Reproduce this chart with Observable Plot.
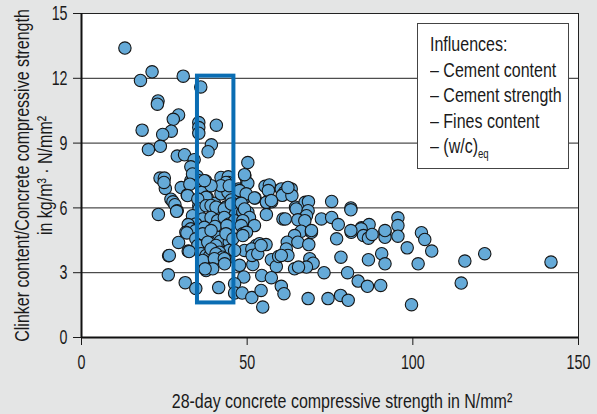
<!DOCTYPE html>
<html>
<head>
<meta charset="utf-8">
<script src="https://cdn.jsdelivr.net/npm/d3@7"></script>
<script src="https://cdn.jsdelivr.net/npm/@observablehq/plot@0.6"></script>
<style>
  html, body { margin: 0; padding: 0; background: #e4e5e5; }
  #wrap { position: relative; width: 597px; height: 414px; overflow: hidden; }
  #legend {
    position: absolute; left: 417px; top: 23px; width: 152px; height: 146px;
    background: #fff; border: 1px solid #444; box-sizing: border-box; overflow: hidden;
  }
  #legend .inner {
    position: absolute; left: 12px; top: 8px; white-space: nowrap;
    font-family: "Liberation Sans", Arial, sans-serif;
    font-size: 20px; line-height: 25.6px; color: #1a1a1a;
    transform: scaleX(0.8); transform-origin: left top;
  }
  #legend sub { font-size: 12px; vertical-align: -5px; line-height: 0; }
</style>
</head>
<body>
<div id="wrap"></div>
<script>
// 28-day concrete compressive strength (N/mm²)
const strength = [
  13.1,17.8,21.3,30.7,23.1,22.9,36.0,18.3,29.3,27.7,27.1,24.5,20.2,23.8,35.4,35.4,35.4,40.7,39.2,38.2,28.9,31.1,34.0,33.0,50.2,
  23.7,25.0,25.3,30.1,27.0,27.6,28.2,31.9,33.0,34.9,35.5,37.5,36.3,37.9,40.1,42.1,44.3,44.3,42.1,44.2,45.2,47.4,47.8,49.3,49.9,52.4,49.1,55.4,56.7,56.4,56.0,57.4,60.3,61.3,63.3,60.6,63.5,64.6,35.4,43.5,67.5,68.5,75.5,81.3,33.5,32.7,24.9,50.2,43.6,42.1,39.1,44.6,47.7,49.7,37.6,32.0,62.3,52.2,55.8,57.3,35.1,37.1,49.2,
  23.2,28.9,28.7,35.5,37.6,40.1,42.1,43.6,45.7,48.7,50.2,39.1,40.6,43.1,45.2,48.2,49.2,55.8,60.8,32.5,36.6,39.1,41.1,43.1,44.6,48.2,50.7,46.2,48.7,33.5,34.5,32.2,33.0,64.8,81.3,61.5,68.4,67.9,65.3,67.4,72.4,75.5,77.5,84.5,86.8,95.5,95.5,34.5,37.1,40.3,43.9,48.2,52.2,66.3,
  43.9,41.1,38.6,41.9,44.6,48.7,49.8,52.7,53.7,55.7,31.5,31.8,29.3,34.5,35.1,36.6,39.1,43.6,45.7,48.7,38.1,40.6,44.6,49.2,51.4,32.2,32.5,64.3,69.4,62.1,61.8,65.3,68.6,77.0,81.4,84.4,85.1,86.6,87.7,91.6,91.6,95.5,98.3,102.6,103.6,105.7,81.3,91.6,69.4,
  26.3,26.5,36.1,37.6,38.6,39.1,41.6,40.6,42.6,43.6,36.6,40.1,43.1,37.6,39.6,43.2,47.7,37.3,51.7,51.5,53.2,54.2,57.3,58.8,59.5,62.3,60.3,68.9,69.9,67.9,64.3,65.5,78.3,86.6,90.6,91.6,101.6,115.7,121.7,141.7,73.2,80.3,49.0,54.4,57.3,26.2,46.2,
  31.3,34.5,41.4,46.2,46.2,48.5,51.4,54.2,54.7,60.3,61.1,83.5,86.3,90.3,68.4,74.4,78.2,80.5,114.6,99.6
];
// Clinker content / concrete compressive strength (kg/m³ · N/mm²)
const ratio = [
  13.4,11.9,12.3,12.1,10.95,10.8,11.6,9.6,10.3,10.1,9.55,9.4,8.7,8.85,9.95,9.72,9.46,9.83,8.92,8.6,8.4,8.46,8.23,7.9,8.1,
  7.38,7.38,6.9,6.94,6.4,6.28,6.15,6.6,7.26,7.47,7.26,7.24,6.72,6.49,6.21,7.41,7.44,7.18,6.65,6.72,6.37,6.88,6.65,7.49,7.18,6.46,6.46,7.0,7.06,6.8,6.23,6.28,6.88,6.72,6.88,6.58,6.57,6.03,6.1,6.03,6.26,6.29,6.3,6.0,7.57,7.1,7.18,7.14,7.18,7.03,7.03,7.03,6.8,6.65,6.49,6.57,6.95,6.46,6.26,6.34,6.41,7.26,7.54,
  5.7,5.87,5.84,5.95,6.1,5.8,5.87,6.03,5.95,5.8,5.8,6.11,6.03,5.95,6.18,6.21,5.95,5.69,5.49,5.26,5.49,5.56,5.41,5.56,5.26,5.33,5.56,5.41,5.41,5.64,5.26,5.23,5.03,5.95,5.91,5.49,5.87,5.64,5.45,5.41,5.49,5.56,5.23,5.08,5.23,5.54,5.18,4.95,5.1,5.14,5.18,5.18,5.18,4.92,
  4.77,4.64,4.41,4.46,4.41,4.8,4.87,4.26,4.34,4.3,4.87,4.84,4.4,4.57,4.26,4.8,4.95,4.8,4.57,4.72,4.41,4.26,4.03,4.03,4.1,4.0,3.98,4.72,4.87,4.41,4.1,4.41,4.3,4.57,4.87,5.03,4.72,4.6,4.77,4.87,4.64,4.69,4.15,4.85,4.54,4.0,4.95,4.95,4.95,
  3.78,3.8,3.88,3.8,3.75,4.1,3.95,3.88,3.72,3.6,3.57,3.65,3.65,3.1,3.18,3.41,3.34,3.18,3.38,3.8,3.88,4.26,3.6,3.29,3.75,3.8,3.8,3.65,3.44,3.26,3.18,3.26,3.72,3.6,3.88,3.41,3.41,3.54,3.88,3.49,3.0,3.0,2.8,2.87,2.77,2.9,4.03,
  2.54,2.27,2.31,2.49,2.06,2.06,1.85,2.18,1.41,2.37,2.03,2.61,2.37,2.41,1.8,1.8,1.95,1.72,2.52,1.52
];
const xTicks = [0, 50, 100, 150];
const yTicks = [0, 3, 6, 9, 12, 15];
const gridY = [3, 6, 9, 12];
// highlighted band (x range, y range)
const bandX = [35, 46];
const bandY = [1.6, 12.1];
const xLabel = "28-day concrete compressive strength in N/mm²";
const yLabel = "Clinker content/Concrete compressive strength\nin kg/m³ · N/mm²";
const legendTitle = "Influences:";
const legendItems = ["– Cement content", "– Cement strength", "– Fines content"];

const points = strength.map((x, i) => ({x, y: ratio[i]}));
const font = "'Liberation Sans', Arial, sans-serif";

const chart = Plot.plot({
  width: 597,
  height: 414,
  marginLeft: 81,
  marginRight: 19,
  marginTop: 13,
  marginBottom: 77,
  style: {background: "#e4e5e5", fontFamily: font, fontSize: "21px", color: "#1a1a1a"},
  x: {domain: [0, 150], ticks: xTicks, tickSize: 8, tickPadding: 9, label: null},
  y: {domain: [0, 15], ticks: yTicks, tickSize: 8, tickPadding: 6, label: null},
  marks: [
    Plot.frame({fill: "white", stroke: "#222", strokeWidth: 1}),
    Plot.ruleY(gridY, {stroke: "#222", strokeWidth: 1}),
    Plot.dot(points, {x: "x", y: "y", r: 6.2, fill: "#65aad8", stroke: "#151515", strokeWidth: 1.1, fillOpacity: 1}),
    Plot.rect([{x1: bandX[0], x2: bandX[1], y1: bandY[0], y2: bandY[1]}], {x1: "x1", x2: "x2", y1: "y1", y2: "y2", fill: "none", stroke: "#0a6db3", strokeWidth: 4}),
    Plot.ruleX([0], {stroke: "#111", strokeWidth: 2}),
    Plot.ruleY([0], {stroke: "#111", strokeWidth: 2}),
    Plot.text([xLabel], {frameAnchor: "bottom", textAnchor: "middle", dx: 12, dy: 70, fontSize: 20, fill: "#1a1a1a"}),
    Plot.text([yLabel], {frameAnchor: "left", textAnchor: "middle", lineAnchor: "middle", rotate: -90, dx: -48, fontSize: 20, lineHeight: 1.12, fill: "#1a1a1a"})
  ]
});

const wrap = document.getElementById("wrap");
wrap.appendChild(chart);

// emulate the condensed typeface of the original by squeezing text horizontally
function squeeze(sel, s) {
  sel.each(function () {
    const t = d3.select(this);
    const tr = t.attr("transform");
    if (tr) {
      t.attr("transform", tr + ` scale(${s},1)`);
    } else {
      const x = +t.attr("x") || 0, y = +t.attr("y") || 0;
      t.attr("transform", `translate(${x},${y}) scale(${s},1) translate(${-x},${-y})`);
    }
  });
}
const svg = d3.select(chart);
squeeze(svg.selectAll('g[aria-label="x-axis tick label"] text, g[aria-label="y-axis tick label"] text'), 0.68);
squeeze(svg.selectAll('g[aria-label="text"] text'), 0.8);

const legend = document.createElement("div");
legend.id = "legend";
legend.innerHTML = '<div class="inner">' + legendTitle + "<br>" + legendItems.join("<br>") + "<br>– (w/c)<sub>eq</sub></div>";
wrap.appendChild(legend);
</script>
</body>
</html>
